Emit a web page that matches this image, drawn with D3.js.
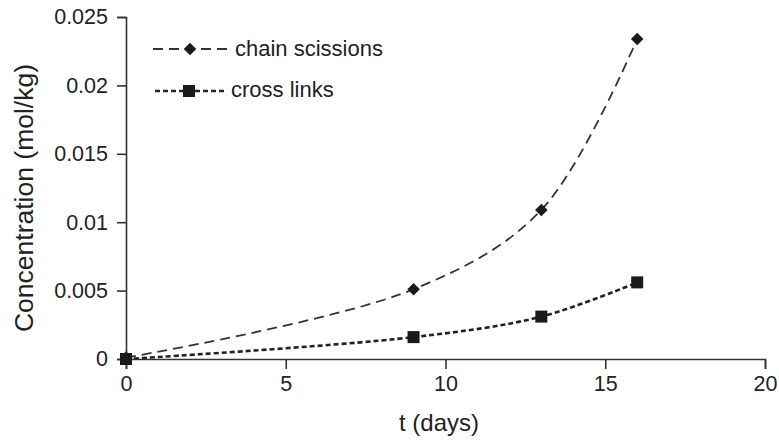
<!DOCTYPE html>
<html>
<head>
<meta charset="utf-8">
<script src="https://cdn.jsdelivr.net/npm/d3@7"></script>
<style>
  body { margin: 0; background: #fff; }
  text { font-family: Arial, "Liberation Sans", sans-serif; fill: #222; }
</style>
</head>
<body>
<div id="chart"></div>
<script>
// time in days
let days = [0, 9, 13, 16];

// concentrations (mol/kg)
let chainScissions = [0.0001, 0.0051, 0.0109, 0.0234];
let crossLinks = [0.0000, 0.0016, 0.0031, 0.0056];

let seriesNames = ['chain scissions', 'cross links'];

let xTicks = [0, 5, 10, 15, 20];
let yTicks = [0, 0.005, 0.01, 0.015, 0.02, 0.025];

let width = 779,
    height = 442;

let margin = {top: 17, right: 14, bottom: 83, left: 126};

let svg = d3.select('#chart')
            .append('svg')
            .attr('width', width)
            .attr('height', height);

let x = d3.scaleLinear().domain([0, 20]).range([margin.left, width - margin.right]);
let y = d3.scaleLinear().domain([0, 0.025]).range([height - margin.bottom, margin.top]);

// axes
let xAxis = svg.append('g')
               .attr('transform', 'translate(0,' + y(0) + ')')
               .call(d3.axisBottom(x).tickValues(xTicks).tickSize(10).tickPadding(7).tickFormat(d3.format('d')));

let yAxis = svg.append('g')
               .attr('transform', 'translate(' + x(0) + ',0)')
               .call(d3.axisLeft(y).tickValues(yTicks).tickSize(9).tickPadding(9).tickFormat(d => d === 0 ? '0' : String(+d.toFixed(3))));

[xAxis, yAxis].forEach(function (a) {
  a.select('.domain').attr('stroke', '#333').attr('stroke-width', 1.6);
  a.selectAll('.tick line').attr('stroke', '#333').attr('stroke-width', 1.6);
  a.selectAll('.tick text').attr('font-size', 21.5).attr('fill', '#222')
   .style('font-family', 'Arial, "Liberation Sans", sans-serif');
});

// axis titles
svg.append('text')
   .attr('x', 439)
   .attr('y', 431)
   .attr('text-anchor', 'middle')
   .attr('font-size', 24)
   .text('t (days)');

svg.append('text')
   .attr('transform', 'translate(33,198) rotate(-90)')
   .attr('text-anchor', 'middle')
   .attr('font-size', 26.5)
   .text('Concentration (mol/kg)');

// lines
let line = d3.line()
             .x(d => x(d[0]))
             .y(d => y(d[1]))
             .curve(d3.curveCatmullRom.alpha(0.5));

let chainData = days.map((d, i) => [d, chainScissions[i]]);
let crossData = days.map((d, i) => [d, crossLinks[i]]);

svg.append('path')
   .attr('d', line(chainData))
   .attr('fill', 'none')
   .attr('stroke', '#333')
   .attr('stroke-width', 1.8)
   .attr('stroke-dasharray', '10,6');

svg.append('path')
   .attr('d', line(crossData))
   .attr('fill', 'none')
   .attr('stroke', '#222')
   .attr('stroke-width', 2.6)
   .attr('stroke-dasharray', '5,3');

let diamond = d3.symbol().type(d3.symbolDiamond2).size(100);
let square = d3.symbol().type(d3.symbolSquare).size(144);

svg.selectAll('.chainPt')
   .data(chainData)
   .enter()
   .append('path')
   .attr('class', 'chainPt')
   .attr('transform', d => 'translate(' + x(d[0]) + ',' + y(d[1]) + ')')
   .attr('d', diamond)
   .attr('fill', '#1a1a1a');

svg.selectAll('.crossPt')
   .data(crossData)
   .enter()
   .append('path')
   .attr('class', 'crossPt')
   .attr('transform', d => 'translate(' + x(d[0]) + ',' + y(d[1]) + ')')
   .attr('d', square)
   .attr('fill', '#1a1a1a');

// legend
let legend = svg.append('g');

legend.append('line')
      .attr('x1', 153).attr('x2', 229)
      .attr('y1', 49).attr('y2', 49)
      .attr('stroke', '#333').attr('stroke-width', 1.8)
      .attr('stroke-dasharray', '10,6');
legend.append('path')
      .attr('transform', 'translate(190,49)')
      .attr('d', diamond)
      .attr('fill', '#1a1a1a');
legend.append('text')
      .attr('x', 235).attr('y', 56)
      .attr('font-size', 22)
      .text(seriesNames[0]);

legend.append('line')
      .attr('x1', 155).attr('x2', 226)
      .attr('y1', 91).attr('y2', 91)
      .attr('stroke', '#222').attr('stroke-width', 2.6)
      .attr('stroke-dasharray', '5,3');
legend.append('path')
      .attr('transform', 'translate(189,91)')
      .attr('d', square)
      .attr('fill', '#1a1a1a');
legend.append('text')
      .attr('x', 231).attr('y', 97)
      .attr('font-size', 22)
      .text(seriesNames[1]);
</script>
</body>
</html>
